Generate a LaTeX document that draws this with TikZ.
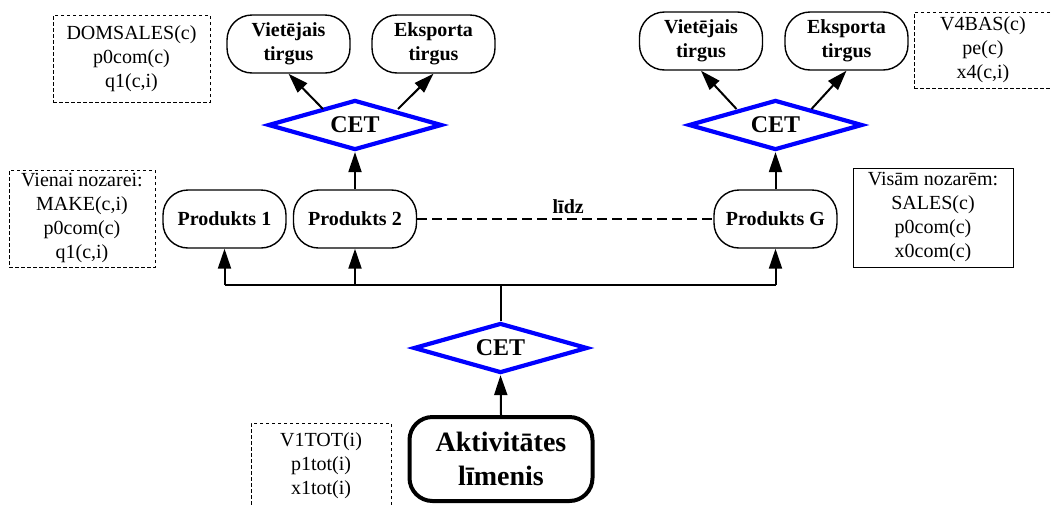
\documentclass[tikz,border=0pt]{standalone}
\usepackage{fontspec}
\setmainfont{Liberation Serif}
\usetikzlibrary{arrows.meta,shapes.geometric,calc}

\begin{document}
\begin{tikzpicture}[x=1pt,y=-1pt,
  pill/.style={draw, line width=1.4pt, rounded corners=25pt, minimum width=123pt,
    minimum height=58pt, inner sep=0pt, align=center,
    font=\bfseries\fontsize{20}{24}\selectfont},
  cet/.style={diamond, draw=blue, line width=4.2pt, minimum width=174pt,
    minimum height=50pt, inner sep=0pt, aspect=3.5,
    font=\bfseries\fontsize{24}{28}\selectfont},
  info/.style={draw, line width=0.9pt, dash pattern=on 3.5pt off 2.5pt,
    inner sep=0pt, align=center, font=\fontsize{20}{24}\selectfont},
  infosolid/.style={info, solid},
  arr/.style={line width=2pt, -{Triangle[length=20pt,width=13pt]}},
  link/.style={line width=2pt},
]
\useasboundingbox (0,0) rectangle (1051,504);
\clip (0,0) rectangle (1051,504);

% market nodes
\node[pill] (vtL) at (288.5,44) {Vietējais\\tirgus};
\node[pill] (ekL) at (433.5,44) {Eksporta\\tirgus};
\node[pill] (vtR) at (701,41) {Vietējais\\tirgus};
\node[pill] (ekR) at (846.5,41) {Eksporta\\tirgus};

% transformation diamonds
\node[cet] (cetL) at (355,125) {CET};
\node[cet] (cetR) at (775.5,125) {CET};
\node[cet] (cetB) at (500.5,348) {CET};

% products
\node[pill] (p1) at (224.5,219) {Produkts 1};
\node[pill] (p2) at (355,219) {Produkts 2};
\node[pill] (pG) at (775.5,219) {Produkts G};

% activity level
\node[draw, line width=4pt, rounded corners=23pt, minimum width=183pt,
  minimum height=84pt, inner sep=0pt, align=center,
  font=\bfseries\fontsize{28}{34}\selectfont] (akt) at (501,459)
  {Aktivitātes\\līmenis};

% data boxes
\node[info, minimum width=157pt, minimum height=87pt] (dom) at (131.5,58.5)
  {DOMSALES(c)\\p0com(c)\\q1(c,i)};
\node[info, minimum width=146pt, minimum height=97pt] (vien) at (82,218.5)
  {Vienai nozarei:\\MAKE(c,i)\\p0com(c)\\q1(c,i)};
\node[info, minimum width=138pt, minimum height=76pt] (v4) at (983,50)
  {V4BAS(c)\\pe(c)\\x4(c,i)};
\node[infosolid, minimum width=160pt, minimum height=99pt] (vis) at (933,217.5)
  {Visām nozarēm:\\SALES(c)\\p0com(c)\\x0com(c)};
\node[info, minimum width=140pt, minimum height=86pt] (v1) at (321,466)
  {V1TOT(i)\\p1tot(i)\\x1tot(i)};

% connectors
\coordinate (bus) at (500.5,285);
\draw[link] (p1.south |- bus) -- (pG.south |- bus);
\draw[arr] (p1.south |- bus) -- (p1.south);
\draw[arr] (p2.south |- bus) -- (p2.south);
\draw[arr] (pG.south |- bus) -- (pG.south);
\draw[link] (cetB.north) -- (cetB.north |- bus);
\draw[arr] (akt.north) -- (cetB.south);
\draw[arr] (p2.north) -- (cetL.south);
\draw[arr] (pG.north) -- (cetR.south);
\draw[arr] ($(cetL.center)+(-32,-16)$) -- (vtL.south);
\draw[arr] ($(cetL.center)+(43,-16)$) -- (ekL.south);
\draw[arr] ($(cetR.center)+(-39,-16)$) -- (vtR.south);
\draw[arr] ($(cetR.center)+(36,-16)$) -- (ekR.south);
\draw[link, dash pattern=on 10pt off 5pt] (p2.east) --
  node[pos=0.51, above=4pt, inner sep=0pt,
    font=\bfseries\fontsize{20}{24}\selectfont] (lidz) {līdz}
  (pG.west);
\end{tikzpicture}
\end{document}
